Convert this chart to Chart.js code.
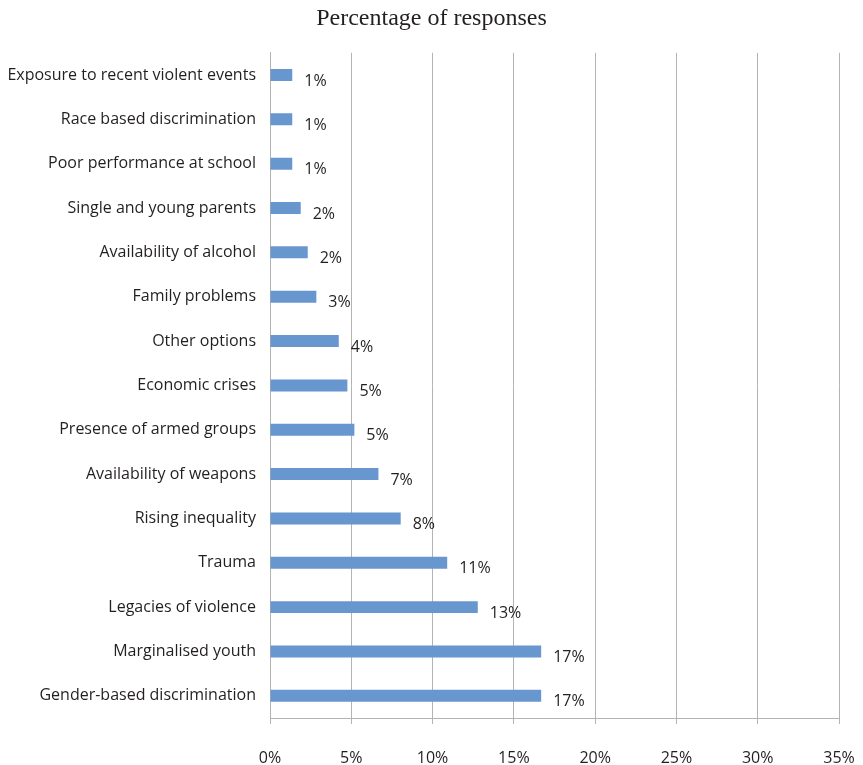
<!DOCTYPE html>
<html>
<head>
<meta charset="utf-8">
<title>Percentage of responses</title>
<script src="https://cdn.jsdelivr.net/npm/chart.js@4.4.1/dist/chart.umd.min.js"></script>
<style>
  body { margin: 0; background: #fff; }
  #wrap { width: 863px; height: 765px; position: relative; }
</style>
</head>
<body>
<div id="wrap"><canvas id="chart"></canvas></div>
<script>
// Risk factors, top to bottom
const categories = [
  "Exposure to recent violent events",
  "Race based discrimination",
  "Poor performance at school",
  "Single and young parents",
  "Availability of alcohol",
  "Family problems",
  "Other options",
  "Economic crises",
  "Presence of armed groups",
  "Availability of weapons",
  "Rising inequality",
  "Trauma",
  "Legacies of violence",
  "Marginalised youth",
  "Gender-based discrimination",
];

// Share of responses (%)
const responses = [1.37, 1.37, 1.37, 1.89, 2.32, 2.85, 4.23, 4.76, 5.19, 6.67, 8.04, 10.9, 12.78, 16.68, 16.68];

// x axis ticks
const xTicks = [0, 5, 10, 15, 20, 25, 30, 35];

const TEXT_COLOR = "#231f20";
const GRID_COLOR = "#b3b3b3";
const LABEL_FONT = "'Open Sans', 'Noto Sans', sans-serif";

// value labels to the right of each bar end
const valueLabels = {
  id: "valueLabels",
  afterDatasetsDraw(chart) {
    const ctx = chart.ctx;
    const meta = chart.getDatasetMeta(0);
    ctx.save();
    ctx.font = "16px " + LABEL_FONT;
    ctx.fillStyle = TEXT_COLOR;
    ctx.textAlign = "left";
    ctx.textBaseline = "middle";
    meta.data.forEach((bar, i) => {
      ctx.fillText(Math.round(responses[i]) + "%", bar.x + 12, bar.y + 6);
    });
    ctx.restore();
  },
};

const ctx = document.getElementById("chart").getContext("2d");
new Chart(ctx, {
  type: "bar",
  data: {
    labels: categories,
    datasets: [
      {
        data: responses,
        backgroundColor: "#6896cf",
        borderWidth: 0,
        barPercentage: 0.54,
        categoryPercentage: 0.5,
      },
    ],
  },
  options: {
    indexAxis: "y",
    responsive: true,
    maintainAspectRatio: false,
    animation: false,
    layout: { padding: 0 },
    plugins: {
      legend: { display: false },
      tooltip: { enabled: false },
      title: {
        display: true,
        text: "Percentage of responses",
        color: TEXT_COLOR,
        font: { family: "'Liberation Serif', 'Times New Roman', serif", size: 24, weight: "normal" },
        padding: { top: 4, bottom: 20 },
      },
    },
    scales: {
      x: {
        min: 0,
        max: 35,
        afterBuildTicks: (scale) => {
          scale.ticks = xTicks.map((v) => ({ value: v }));
        },
        afterFit: (scale) => {
          scale.height = 47;
          // keep the plot right edge at 839px
          scale.paddingLeft = 0;
          scale.paddingRight = 24;
        },
        grid: { color: GRID_COLOR, lineWidth: 1, drawTicks: true, tickLength: 6, tickColor: GRID_COLOR },
        border: { color: GRID_COLOR, width: 1 },
        ticks: {
          color: TEXT_COLOR,
          font: { family: LABEL_FONT, size: 16 },
          padding: 25,
          callback: (v) => v + "%",
        },
      },
      y: {
        afterFit: (scale) => {
          scale.width = 270;
        },
        grid: { display: false, drawTicks: false },
        border: { color: GRID_COLOR, width: 1 },
        ticks: {
          color: TEXT_COLOR,
          font: { family: LABEL_FONT, size: 16 },
          padding: 14,
          autoSkip: false,
        },
      },
    },
  },
  plugins: [valueLabels],
});
</script>
</body>
</html>
